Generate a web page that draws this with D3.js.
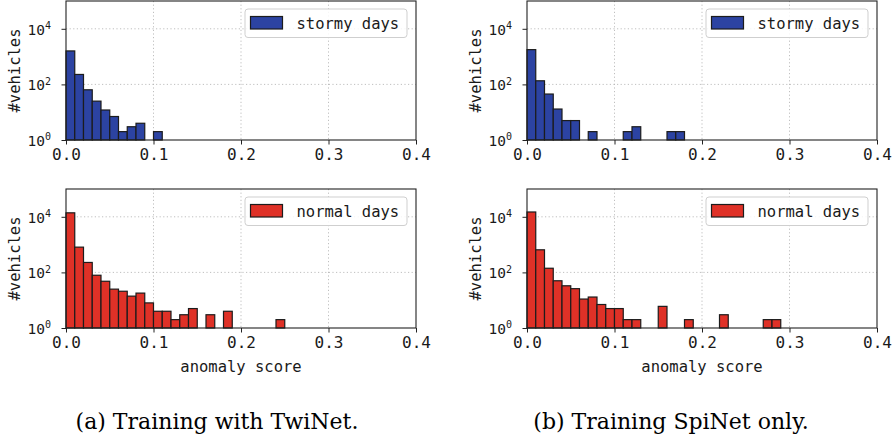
<!DOCTYPE html>
<html>
<head>
<meta charset="utf-8">
<script src="https://cdn.jsdelivr.net/npm/d3@7"></script>
<style>
  body { margin: 0; background: #fff; }
  svg { display: block; }
  .tick line { stroke: #222; }
  .axis-text { font-family: 'DejaVu Sans Mono', monospace; fill: #1a1a1a; }
  .caption { font-family: 'DejaVu Serif', serif; fill: #000; }
</style>
</head>
<body>
<svg width="894" height="438"></svg>
<script>
// bin left edges (width 0.01)
const binEdges = [0.00, 0.01, 0.02, 0.03, 0.04, 0.05, 0.06, 0.07, 0.08, 0.09,
  0.10, 0.11, 0.12, 0.13, 0.14, 0.15, 0.16, 0.17, 0.18, 0.19,
  0.20, 0.21, 0.22, 0.23, 0.24, 0.25, 0.26, 0.27, 0.28, 0.29,
  0.30, 0.31, 0.32, 0.33];
const binWidth = 0.01;

// counts per bin
const twinetStormy = [1600, 228, 64, 25, 12, 7, 2, 3, 4, 0, 2, 0, 1, 0, 0, 1, 1];
const twinetNormal = [13900, 810, 228, 79, 48, 25, 21, 14, 18, 8, 4, 4, 2, 3, 5, 0, 3, 0, 4, 0,
  0, 0, 0, 1, 2, 0, 0, 0, 0, 1, 0, 0, 0, 1];
const spinetStormy = [1780, 135, 45, 13, 5, 5, 0, 2, 1, 1, 0, 2, 3, 0, 0, 1, 2, 2];
const spinetNormal = [14900, 650, 141, 50, 33, 26, 11, 13, 7, 5, 5, 2, 2, 1, 0, 6, 1, 1, 2, 0,
  1, 0, 3, 1, 0, 0, 0, 2, 2, 0, 1];

const xTicks = [0.0, 0.1, 0.2, 0.3, 0.4];
const yTicks = [1, 100, 10000];
const legendLabels = ['stormy days', 'normal days'];
const captions = ['(a) Training with TwiNet.', '(b) Training SpiNet only.'];

const svg = d3.select('svg');
const colors = {stormy: '#2c43a2', normal: '#df3127'};

const panels = [
  {counts: twinetStormy, col: 0, row: 0, kind: 'stormy'},
  {counts: twinetNormal, col: 0, row: 1, kind: 'normal'},
  {counts: spinetStormy, col: 1, row: 0, kind: 'stormy'},
  {counts: spinetNormal, col: 1, row: 1, kind: 'normal'}
];

const colLeft = [66, 527];
const rowTop = [1, 189];
const innerWidth = 350;
const innerHeight = 139;

const xScale = d3.scaleLinear().domain([0, 0.4]).range([0, innerWidth]);
const yScale = d3.scaleLog().domain([1, 1e5]).range([innerHeight, 0]);

const render = p => {
  const g = svg.append('g')
    .attr('transform', `translate(${colLeft[p.col]}, ${rowTop[p.row]})`);

  // grid
  g.selectAll('.vgrid').data(xTicks.slice(1, -1))
    .enter().append('line')
      .attr('x1', d => xScale(d)).attr('x2', d => xScale(d))
      .attr('y1', 0).attr('y2', innerHeight)
      .attr('stroke', '#b8b8b8').attr('stroke-width', 0.9)
      .attr('stroke-dasharray', '1.2,2.4');
  g.selectAll('.hgrid').data(yTicks.slice(1))
    .enter().append('line')
      .attr('y1', d => yScale(d)).attr('y2', d => yScale(d))
      .attr('x1', 0).attr('x2', innerWidth)
      .attr('stroke', '#b8b8b8').attr('stroke-width', 0.9)
      .attr('stroke-dasharray', '1.2,2.4');

  // bars
  const bars = p.counts.map((c, i) => ({x0: binEdges[i], count: c}))
    .filter(d => d.count > 0);
  g.selectAll('rect.bar').data(bars)
    .enter().append('rect')
      .attr('class', 'bar')
      .attr('x', d => xScale(d.x0))
      .attr('width', d => xScale(d.x0 + binWidth) - xScale(d.x0))
      .attr('y', d => yScale(d.count))
      .attr('height', d => innerHeight - yScale(d.count))
      .attr('fill', colors[p.kind])
      .attr('stroke', '#1c1c1c')
      .attr('stroke-width', 1.2);

  // axes
  const xAxis = d3.axisBottom(xScale)
    .tickValues(xTicks)
    .tickFormat(d3.format('.1f'))
    .tickSize(4.5)
    .tickPadding(4);
  const xAxisG = g.append('g')
    .attr('transform', `translate(0, ${innerHeight})`)
    .call(xAxis)
    .attr('font-size', null)
    .attr('font-family', null);
  xAxisG.select('.domain').remove();
  xAxisG.selectAll('text')
    .attr('class', 'axis-text')
    .attr('font-size', 16)
    .attr('fill', null);

  const yAxis = d3.axisLeft(yScale)
    .tickValues(yTicks)
    .tickFormat(() => '')
    .tickSize(4.5);
  const yAxisG = g.append('g').call(yAxis)
    .attr('font-size', null)
    .attr('font-family', null);
  yAxisG.select('.domain').remove();
  yAxisG.selectAll('.tick').each(function(d) {
    const t = d3.select(this).select('text')
      .attr('class', 'axis-text')
      .attr('fill', null)
      .attr('x', -15)
      .attr('dy', '0.36em')
      .attr('text-anchor', 'end')
      .attr('font-size', 14.5);
    t.append('tspan').text('10');
    t.append('tspan')
      .attr('dy', '-0.55em')
      .attr('font-size', 10)
      .text(Math.round(Math.log10(d)));
  });

  // frame
  g.append('rect')
    .attr('width', innerWidth).attr('height', innerHeight)
    .attr('fill', 'none')
    .attr('stroke', '#222').attr('stroke-width', 1.1);

  g.append('text')
    .attr('class', 'axis-text')
    .attr('transform', `translate(${-46}, ${innerHeight / 2}) rotate(-90)`)
    .attr('text-anchor', 'middle')
    .attr('font-size', 15.5)
    .text('#vehicles');

  if (p.row === 1) {
    g.append('text')
      .attr('class', 'axis-text')
      .attr('x', innerWidth / 2)
      .attr('y', 183)
      .attr('text-anchor', 'middle')
      .attr('font-size', 15.5)
      .text('anomaly score');
  }

  // legend
  const lg = g.append('g').attr('transform', `translate(${innerWidth - 171}, 8)`);
  lg.append('rect')
    .attr('width', 162).attr('height', 28.5)
    .attr('rx', 3)
    .attr('fill', 'white').attr('fill-opacity', 0.85)
    .attr('stroke', '#cfcfcf');
  lg.append('rect')
    .attr('x', 5.5).attr('y', 7.5)
    .attr('width', 32).attr('height', 12.5)
    .attr('fill', colors[p.kind])
    .attr('stroke', '#1c1c1c').attr('stroke-width', 1.2);
  lg.append('text')
    .attr('class', 'axis-text')
    .attr('x', 51.5).attr('y', 19.5)
    .attr('font-size', 15.5)
    .text(p.kind === 'stormy' ? legendLabels[0] : legendLabels[1]);
};

panels.forEach(render);

svg.selectAll('.caption').data(captions)
  .enter().append('text')
    .attr('class', 'caption')
    .attr('x', (d, i) => [217, 671][i])
    .attr('y', 429)
    .attr('text-anchor', 'middle')
    .attr('font-size', 22)
    .text(d => d);
</script>
</body>
</html>
